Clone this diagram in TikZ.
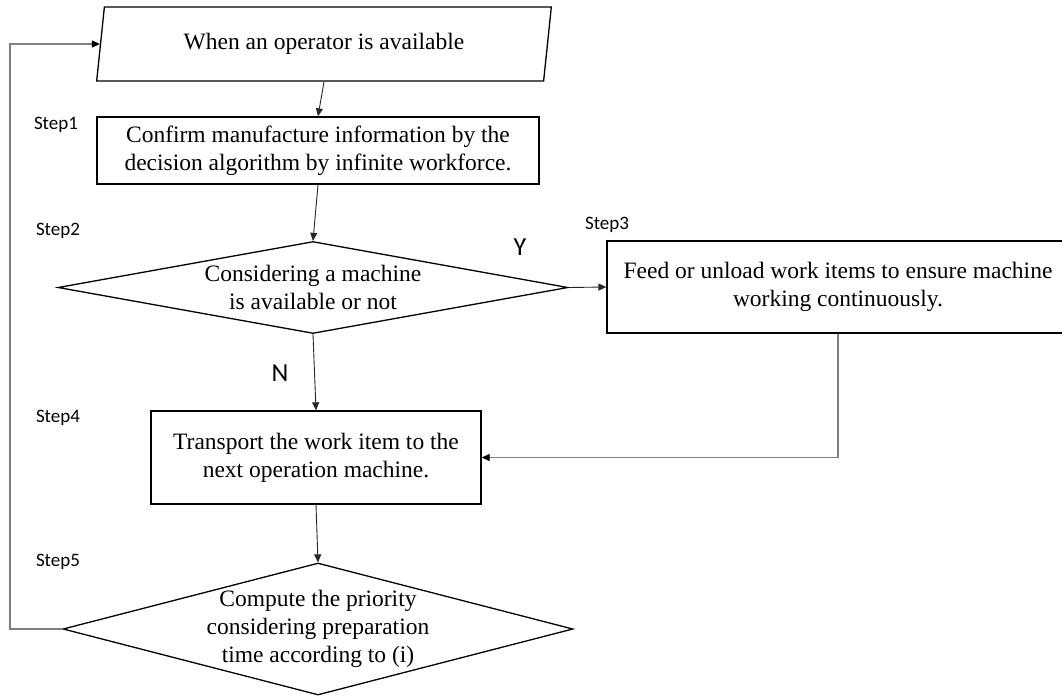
\documentclass[tikz,border=0pt]{standalone}
\usepackage{fontspec}
\setmainfont{Liberation Serif}
\newfontfamily\stepfont{Carlito}
\usetikzlibrary{arrows.meta,%
                shapes.geometric}
\tikzstyle{procbox}=[rectangle, draw, line width=1.3pt, align=center, inner sep=0pt, font=\fontsize{23.5}{28}\selectfont]
\tikzstyle{decision}=[diamond, draw, line width=1.3pt, align=center, inner sep=0pt, font=\fontsize{23.5}{28}\selectfont]
\tikzstyle{inputbox}=[trapezium, trapezium left angle=77, trapezium right angle=103, trapezium stretches=true, draw, line width=1.3pt, inner sep=0pt, font=\fontsize{23.5}{28}\selectfont]
\tikzstyle{steplabel}=[font=\stepfont\fontsize{19}{22}\selectfont]
\tikzstyle{yesno}=[font=\stepfont\fontsize{26}{30}\selectfont]
\tikzstyle{flow}=[draw=black!85, line width=0.9pt, -{Triangle[length=8pt,width=7pt]}]
\tikzstyle{backflow}=[draw=black!50, line width=1.2pt, -{Triangle[length=8pt,width=7pt,color=black]}]

\begin{document}
\begin{tikzpicture}[x=1pt,y=-1pt]
  \useasboundingbox (0,0) rectangle (1062,698);
  \node[inputbox, minimum width=456, minimum height=74] (avail) at (324,44) {When an operator is available};
  \node[procbox, minimum width=442, minimum height=67] (confirm) at (318,150.5) {Confirm manufacture information by the\\decision algorithm by infinite workforce.};
  \node[decision, minimum width=510, minimum height=92, aspect=5.5] (machine) at (313,287.5) {Considering a machine\\is available or not};
  \node[procbox, minimum width=462, minimum height=92] (feed) at (838,287) {Feed or unload work items to ensure machine\\working continuously.};
  \node[procbox, minimum width=330, minimum height=93] (transport) at (316,457.5) {Transport the work item to the\\next operation machine.};
  \node[decision, minimum width=510, minimum height=132, aspect=3.86, inner xsep=-10pt, inner ysep=-5pt] (priority) at (318,629) {Compute the priority\\considering preparation\\time according to (i)};
  \coordinate (loop) at (10,629);

  \node[steplabel] (step1) at (56,125) {Step1};
  \node[steplabel] (step2) at (58,231) {Step2};
  \node[steplabel] (step3) at (607,225) {Step3};
  \node[steplabel] (step4) at (58,418) {Step4};
  \node[steplabel] (step5) at (58,562) {Step5};
  \node[yesno] (yes) at (520,247) {Y};
  \node[yesno] (no) at (280,373) {N};

  \draw[flow] (avail.south) -- (confirm.north);
  \draw[flow] (confirm.south) -- (machine.north);
  \draw[flow] (machine.east) -- (feed.west);
  \draw[flow] (machine.south) -- (transport.north);
  \draw[backflow] (feed.south) |- (transport.east);
  \draw[flow] (transport.south) -- (priority.north);
  \draw[backflow] (priority.west) -- (loop) |- (avail.west);
\end{tikzpicture}
\end{document}
